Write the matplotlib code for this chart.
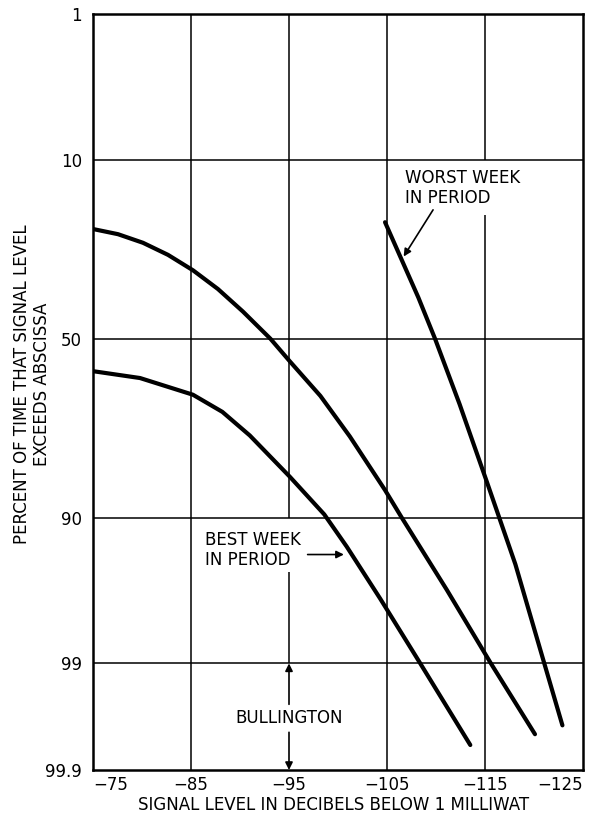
import math
import numpy as np
import matplotlib
matplotlib.use('Agg')
import matplotlib.pyplot as plt

# percent of time the signal level exceeds the abscissa, vs. dB below 1 mW
middle_db = [-75.0, -77.55, -80.1, -82.65, -85.2, -87.75, -90.3, -93.1, -95.1,
             -98.2, -101.2, -104.8, -106.5, -111.1, -115.6, -120.1]
middle_pct = [21.6, 22.7, 24.6, 27.4, 31.2, 36.1, 42.3, 50.0, 56.5,
              65.9, 75.8, 86.1, 90.0, 96.4, 99.0, 99.77]

best_db = [-75.0, -79.8, -85.2, -88.2, -91.0, -95.1, -98.6, -100.9, -104.3,
           -108.2, -113.5]
best_pct = [59.2, 61.1, 65.6, 70.0, 75.6, 83.9, 89.6, 93.2, 96.87,
            98.94, 99.82]

worst_db = [-104.8, -108.2, -109.9, -112.4, -115.2, -118.1, -120.9, -122.9]
worst_pct = [20.2, 38.4, 50.0, 68.0, 84.8, 94.7, 98.9, 99.72]

x_ticks = [-75, -85, -95, -105, -115, -125]
y_ticks = [1, 10, 50, 90, 99, 99.9]
y_ticklabels = ['1', '10', '50', '90', '99', '99.9']

# normal probability scale for the percent axis
_z_tab = np.linspace(-8, 8, 40001)
_erf = np.vectorize(math.erf)
_p_tab = 50.0 * (1.0 + _erf(_z_tab / math.sqrt(2)))


def pct_to_z(p):
    p = np.clip(np.asarray(p, dtype=float), 1e-9, 100 - 1e-9)
    return np.interp(p, _p_tab, _z_tab)


def z_to_pct(z):
    z = np.asarray(z, dtype=float)
    return 50.0 * (1.0 + _erf(z / math.sqrt(2)))


fig = plt.figure(figsize=(5.9, 8.23), dpi=100)
ax = fig.add_axes([93 / 590, 1 - 770 / 823, 490 / 590, 756 / 823])
ax.set_yscale('function', functions=(pct_to_z, z_to_pct))
ax.set_xlim(-75, -125)
ax.set_ylim(99.9, 1)

grid_kw = dict(color='black', lw=1.1, zorder=1)
for p in [10, 50, 90, 99]:
    ax.axhline(p, **grid_kw)
ax.vlines([-85, -105], 1, 99.9, **grid_kw)
# broken gridlines leave room for the labels
ax.vlines(-95, 1, 90, **grid_kw)
ax.vlines(-95, 95.3, 99, **grid_kw)
ax.vlines(-115, 1, 10, **grid_kw)
ax.vlines(-115, 18.7, 99.9, **grid_kw)

line_kw = dict(color='black', lw=3.0, solid_capstyle='round',
               solid_joinstyle='round', zorder=3)
ax.plot(middle_db, middle_pct, **line_kw)
ax.plot(best_db, best_pct, **line_kw)
ax.plot(worst_db, worst_pct, **line_kw)

arrow_kw = dict(arrowstyle='-|>', color='black', lw=1.2, mutation_scale=11,
                shrinkA=0, shrinkB=0)
txt_kw = dict(fontsize=12, color='black', linespacing=1.1)

ax.text(-106.8, 14.0, 'WORST WEEK\nIN PERIOD', ha='left', va='center', **txt_kw)
ax.annotate('', xy=(-106.7, 27.8), xytext=(-109.7, 17.8), arrowprops=arrow_kw)

ax.text(-86.4, 93.5, 'BEST WEEK\nIN PERIOD', ha='left', va='center', **txt_kw)
ax.annotate('', xy=(-100.6, 93.9), xytext=(-96.9, 93.9), arrowprops=arrow_kw)

ax.text(-95, 99.67, 'BULLINGTON', ha='center', va='center', **txt_kw)
ax.annotate('', xy=(-95, 99.0), xytext=(-95, 99.56), arrowprops=arrow_kw)
ax.annotate('', xy=(-95, 99.9), xytext=(-95, 99.76), arrowprops=arrow_kw)

ax.set_xticks(x_ticks)
ax.set_xticklabels([str(v).replace('-', '\u2212') for v in x_ticks])
ax.set_yticks(y_ticks)
ax.set_yticklabels(y_ticklabels)
ax.minorticks_off()
ax.tick_params(length=0, labelsize=12)
ax.tick_params(axis='x', pad=4)
ax.tick_params(axis='y', pad=8)
xl = ax.get_xticklabels()
xl[0].set_ha('left')
xl[-1].set_ha('right')

for s in ax.spines.values():
    s.set_linewidth(1.8)

ax.set_xlabel('SIGNAL LEVEL IN DECIBELS BELOW 1 MILLIWAT', fontsize=12)
ax.xaxis.set_label_coords(0.49, -0.035)
ax.set_ylabel('PERCENT OF TIME THAT SIGNAL LEVEL\nEXCEEDS ABSCISSA', fontsize=12,
              linespacing=1.15)
ax.yaxis.set_label_coords(-0.085, 0.51)

fig.savefig('out.png', dpi=100)
